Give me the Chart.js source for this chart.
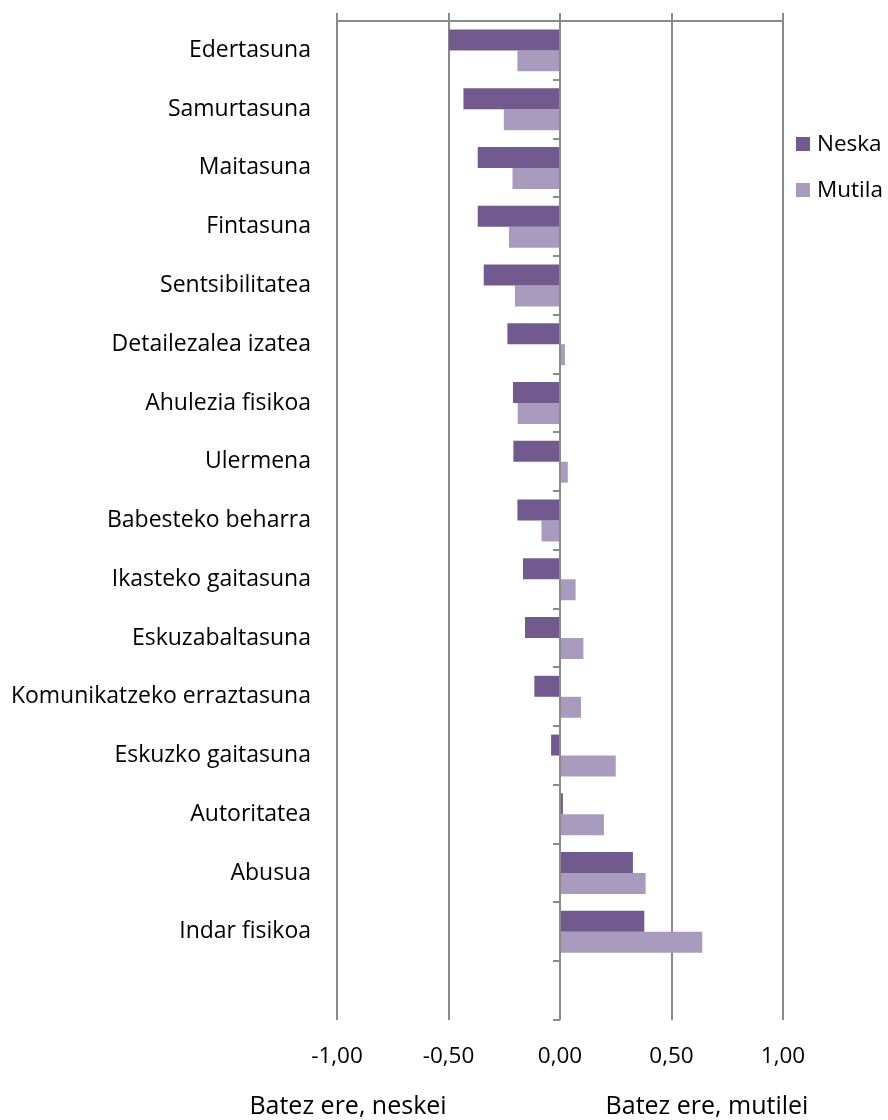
<!DOCTYPE html>
<html>
<head>
<meta charset="utf-8">
<script src="https://cdn.jsdelivr.net/npm/chart.js@4/dist/chart.umd.min.js"></script>
<style>
html,body{margin:0;padding:0;background:#fff}
#wrap{width:888px;height:1120px;position:relative}
canvas{display:block}
</style>
</head>
<body>
<div id="wrap"><canvas id="c" width="888" height="1120"></canvas></div>
<script>
const categories = ['Edertasuna','Samurtasuna','Maitasuna','Fintasuna','Sentsibilitatea','Detailezalea izatea','Ahulezia fisikoa','Ulermena','Babesteko beharra','Ikasteko gaitasuna','Eskuzabaltasuna','Komunikatzeko erraztasuna','Eskuzko gaitasuna','Autoritatea','Abusua','Indar fisikoa',''];
const neska  = [-0.498,-0.433,-0.369,-0.369,-0.342,-0.236,-0.211,-0.209,-0.191,-0.166,-0.157,-0.115,-0.040,0.013,0.327,0.378,null];
const mutila = [-0.191,-0.252,-0.213,-0.229,-0.202,0.022,-0.190,0.035,-0.083,0.070,0.105,0.094,0.250,0.197,0.384,0.638,null];
const seriesNames = ['Neska','Mutila'];
const xTicks = [-1,-0.5,0,0.5,1];
const bottomNotes = ['Batez ere, neskei','Batez ere, mutilei'];

const COL_NESKA = '#725A8F';
const COL_MUTILA = '#A99BBD';
const GRID = '#8A8A8A';
const FONT = 'Open Sans';
const FS = 23;

const fmt = v => Number(v).toFixed(2).replace('.', ',');

const decor = {
  id: 'decor',
  afterDatasetsDraw(chart) {
    const {ctx, scales: {x, y}, chartArea} = chart;
    const x0 = x.getPixelForValue(0);
    ctx.save();
    ctx.strokeStyle = GRID;
    ctx.lineWidth = 2;
    for (let i = 0; i <= categories.length; i++) {
      const py = Math.round(y.getPixelForValue(i - 0.5));
      ctx.beginPath();
      ctx.moveTo(x0 - 7, py);
      ctx.lineTo(x0, py);
      ctx.stroke();
    }
    // legend
    const cols = [COL_NESKA, COL_MUTILA];
    const lx = chartArea.right + 13;
    const ly = [144, 190];
    ctx.font = `22.5px "${FONT}"`;
    ctx.textAlign = 'left';
    ctx.textBaseline = 'middle';
    seriesNames.forEach((n, i) => {
      ctx.fillStyle = cols[i];
      ctx.fillRect(lx, ly[i] - 7, 14, 14);
      ctx.fillStyle = '#000';
      ctx.fillText(n, lx + 21, ly[i] + 1);
    });
    // bottom notes
    ctx.font = `25px "${FONT}"`;
    ctx.textAlign = 'center';
    ctx.textBaseline = 'alphabetic';
    ctx.fillText(bottomNotes[0], 348, 1114);
    ctx.fillText(bottomNotes[1], 707, 1114);
    ctx.restore();
  }
};

const setTicks = s => { s.ticks = xTicks.map(v => ({value: v})); };

new Chart(document.getElementById('c').getContext('2d'), {
  type: 'bar',
  data: {
    labels: categories,
    datasets: [
      {label: seriesNames[0], data: neska, backgroundColor: COL_NESKA, categoryPercentage: 0.714, barPercentage: 1},
      {label: seriesNames[1], data: mutila, backgroundColor: COL_MUTILA, categoryPercentage: 0.714, barPercentage: 1}
    ]
  },
  options: {
    indexAxis: 'y',
    responsive: false,
    animation: false,
    devicePixelRatio: 1,
    layout: {padding: {left: 0, right: 105, top: 0, bottom: 0}},
    plugins: {legend: {display: false}, tooltip: {enabled: false}},
    scales: {
      x: {
        type: 'linear', position: 'bottom', min: -1, max: 1,
        afterBuildTicks: setTicks,
        afterFit: s => { s.height = 100; s.paddingLeft = 0; s.paddingRight = 0; },
        ticks: {callback: fmt, font: {family: FONT, size: 22.5}, color: '#000', padding: 23, maxRotation: 0, autoSkip: false},
        grid: {color: GRID, lineWidth: 2, drawTicks: false},
        border: {display: false}
      },
      x2: {
        type: 'linear', position: 'top', min: -1, max: 1,
        afterBuildTicks: setTicks,
        afterFit: s => { s.height = 21; s.paddingLeft = 0; s.paddingRight = 0; },
        ticks: {display: false},
        grid: {drawOnChartArea: false, color: GRID, lineWidth: 2, tickLength: 8},
        border: {display: true, color: GRID, width: 2}
      },
      y: {
        type: 'category',
        afterFit: s => { s.width = 337; s.paddingTop = 0; s.paddingBottom = 0; },
        ticks: {font: {family: FONT, size: FS}, color: '#000', padding: 26, autoSkip: false},
        grid: {display: false, drawTicks: false},
        border: {display: false}
      }
    }
  },
  plugins: [decor]
});
</script>
</body>
</html>
